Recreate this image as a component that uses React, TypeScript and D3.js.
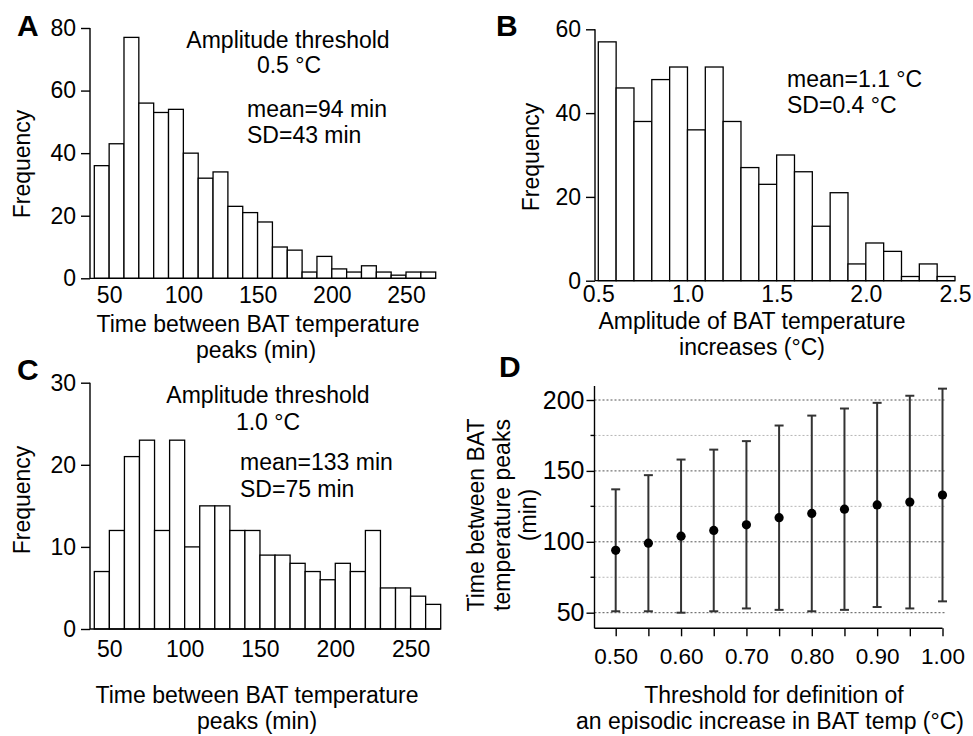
import React, { useEffect, useRef } from "react";
import * as d3 from "d3";

const FONT = "'Liberation Sans', Arial, sans-serif";

// histogram bins (lower edges) for the inter-peak time panels (A and C)
const timeBins = [40, 50, 60, 70, 80, 90, 100, 110, 120, 130, 140, 150, 160, 170, 180, 190, 200, 210, 220, 230, 240, 250, 260];
const timeBinWidth = 10;
const countsA = [36, 43, 77, 56, 53, 54, 40, 32, 34, 23, 21, 18, 10, 9, 2, 7, 3, 2, 4, 2, 1, 2, 2];
const countsC = [7, 12, 21, 23, 12, 23, 10, 15, 15, 12, 12, 9, 9, 8, 7, 6, 8, 7, 12, 5, 5, 4, 3];

// amplitude histogram (B)
const ampBins = [0.5, 0.6, 0.7, 0.8, 0.9, 1.0, 1.1, 1.2, 1.3, 1.4, 1.5, 1.6, 1.7, 1.8, 1.9, 2.0, 2.1, 2.2, 2.3, 2.4];
const ampBinWidth = 0.1;
const countsB = [57, 46, 38, 48, 51, 36, 51, 38, 27, 23, 30, 26, 13, 21, 4, 9, 7, 1, 4, 1];

// panel D: mean +/- SD of time between peaks per threshold
const thresholds = [0.5, 0.55, 0.6, 0.65, 0.7, 0.75, 0.8, 0.85, 0.9, 0.95, 1.0];
const meanInterval = [94, 99, 104, 108, 112, 117, 120, 123, 126, 128, 133];
const sdInterval = [43, 48, 54, 57, 59, 65, 69, 71, 72, 75, 75];

const yTicksA = [0, 20, 40, 60, 80];
const yTicksB = [0, 20, 40, 60];
const yTicksC = [0, 10, 20, 30];
const timeTicks = [50, 100, 150, 200, 250];
const ampTicks = [0.5, 1.0, 1.5, 2.0, 2.5];
const yTicksD = [50, 100, 150, 200];
const gridMajorD = [50, 100, 150, 200];
const gridMinorD = [75, 125, 175];
const xLabelsD = [0.5, 0.6, 0.7, 0.8, 0.9, 1.0];

function styleAxis(g, size) {
  g.attr("font-size", null).attr("font-family", null);
  g.selectAll("text").attr("font-size", size).attr("font-family", FONT).attr("fill", "#000");
  g.selectAll("line").attr("stroke", "#000").attr("stroke-width", 1.4);
  g.selectAll("path").attr("stroke", "#000").attr("stroke-width", 1.4);
}

function drawHist(svg, o) {
  const x = d3.scaleLinear().domain(o.xDomain).range(o.xRange);
  const y = d3.scaleLinear().domain(o.yDomain).range(o.yRange);

  svg
    .append("g")
    .selectAll("rect")
    .data(o.counts)
    .join("rect")
    .attr("x", (d, i) => x(o.bins[i]))
    .attr("width", (d, i) => x(o.bins[i] + o.binWidth) - x(o.bins[i]))
    .attr("y", (d) => y(d))
    .attr("height", (d) => y(0) - y(d))
    .attr("fill", "#fff")
    .attr("stroke", "#000")
    .attr("stroke-width", 1.3);

  // baseline from the axis to the last bar
  svg
    .append("line")
    .attr("x1", o.axisX)
    .attr("x2", x(o.xDomain[1]))
    .attr("y1", y(0))
    .attr("y2", y(0))
    .attr("stroke", "#000")
    .attr("stroke-width", 1.3);

  const yAxis = d3.axisLeft(y).tickValues(o.yTicks).tickSize(9).tickSizeOuter(0).tickPadding(5);
  const gy = svg.append("g").attr("transform", `translate(${o.axisX},0)`).call(yAxis);
  styleAxis(gy, 23);
  gy.select(".domain").attr("d", `M0,${y(0)}V${y(o.yDomain[1])}`);

  const xAxis = d3.axisBottom(x).tickValues(o.xTicks).tickSize(0).tickPadding(o.xPad).tickFormat(o.xFormat);
  const gx = svg.append("g").attr("transform", `translate(0,${y(0)})`).call(xAxis);
  styleAxis(gx, 23);
  gx.select(".domain").remove();
}

function addText(svg, str, x, y, anchor = "start", size = 23, weight = "normal") {
  return svg
    .append("text")
    .attr("x", x)
    .attr("y", y)
    .attr("text-anchor", anchor)
    .attr("font-family", FONT)
    .attr("font-size", size)
    .attr("font-weight", weight)
    .attr("fill", "#000")
    .text(str);
}

function addVText(svg, str, x, y) {
  svg
    .append("text")
    .attr("transform", `translate(${x},${y}) rotate(-90)`)
    .attr("text-anchor", "middle")
    .attr("font-family", FONT)
    .attr("font-size", 23)
    .attr("fill", "#000")
    .text(str);
}

export default function App() {
  const svgRef = useRef(null);

  useEffect(() => {
    const svg = d3.select(svgRef.current);
    svg.selectAll("*").remove();

    // ---- A ----
    drawHist(svg, {
      bins: timeBins, binWidth: timeBinWidth, counts: countsA,
      xDomain: [40, 270], xRange: [94.3, 435.7],
      yDomain: [0, 80], yRange: [278.3, 28],
      yTicks: yTicksA, xTicks: timeTicks, xFormat: d3.format("d"),
      axisX: 90, xPad: 8,
    });
    addText(svg, "A", 17, 36, "start", 30, "bold");
    addText(svg, "Amplitude threshold", 288, 48, "middle");
    addText(svg, "0.5 °C", 289, 73, "middle");
    addText(svg, "mean=94 min", 247, 117);
    addText(svg, "SD=43 min", 247, 143);
    addVText(svg, "Frequency", 30, 164);
    addText(svg, "Time between BAT temperature", 258, 332, "middle");
    addText(svg, "peaks (min)", 256, 358, "middle");

    // ---- B ----
    drawHist(svg, {
      bins: ampBins, binWidth: ampBinWidth, counts: countsB,
      xDomain: [0.5, 2.5], xRange: [598.3, 955],
      yDomain: [0, 60], yRange: [280.7, 29.3],
      yTicks: yTicksB, xTicks: ampTicks, xFormat: d3.format(".1f"),
      axisX: 595, xPad: 5,
    });
    addText(svg, "B", 496, 36, "start", 30, "bold");
    addText(svg, "mean=1.1 °C", 787, 87);
    addText(svg, "SD=0.4 °C", 787, 113);
    addVText(svg, "Frequency", 539, 157);
    addText(svg, "Amplitude of BAT temperature", 752, 329, "middle");
    addText(svg, "increases (°C)", 752, 355, "middle");

    // ---- C ----
    drawHist(svg, {
      bins: timeBins, binWidth: timeBinWidth, counts: countsC,
      xDomain: [40, 270], xRange: [94.3, 440.7],
      yDomain: [0, 30], yRange: [629, 382.7],
      yTicks: yTicksC, xTicks: timeTicks, xFormat: d3.format("d"),
      axisX: 90, xPad: 12,
    });
    addText(svg, "C", 17, 380, "start", 30, "bold");
    addText(svg, "Amplitude threshold", 268, 403, "middle");
    addText(svg, "1.0 °C", 268, 430, "middle");
    addText(svg, "mean=133 min", 240, 470);
    addText(svg, "SD=75 min", 240, 497);
    addVText(svg, "Frequency", 30, 500);
    addText(svg, "Time between BAT temperature", 257, 703, "middle");
    addText(svg, "peaks (min)", 257, 729, "middle");

    // ---- D ----
    const axisXD = 594.5;
    const xD = d3.scaleLinear().domain([0.5, 1.0]).range([615.7, 942.5]);
    const yD = d3.scaleLinear().domain([50, 200]).range([612.7, 400]);
    const yBottom = 628.3;
    const yTop = 386;
    const gridRight = 946;

    const grid = svg.append("g");
    grid
      .selectAll("line.minor")
      .data(gridMinorD)
      .join("line")
      .attr("x1", axisXD)
      .attr("x2", gridRight)
      .attr("y1", (d) => yD(d))
      .attr("y2", (d) => yD(d))
      .attr("stroke", "#b5b5b5")
      .attr("stroke-width", 1)
      .attr("stroke-dasharray", "2,2");
    grid
      .selectAll("line.major")
      .data(gridMajorD)
      .join("line")
      .attr("x1", axisXD)
      .attr("x2", gridRight)
      .attr("y1", (d) => yD(d))
      .attr("y2", (d) => yD(d))
      .attr("stroke", "#555")
      .attr("stroke-width", 1)
      .attr("stroke-dasharray", "2,2");

    // minor y ticks
    svg
      .append("g")
      .selectAll("line")
      .data(gridMinorD)
      .join("line")
      .attr("x1", axisXD - 4)
      .attr("x2", axisXD)
      .attr("y1", (d) => yD(d))
      .attr("y2", (d) => yD(d))
      .attr("stroke", "#000")
      .attr("stroke-width", 1.4);

    const gyD = svg
      .append("g")
      .attr("transform", `translate(${axisXD},0)`)
      .call(d3.axisLeft(yD).tickValues(yTicksD).tickSize(8).tickSizeOuter(0).tickPadding(2));
    styleAxis(gyD, 25);
    gyD.select(".domain").attr("d", `M0,${yTop}V${yBottom}`);

    const gxD = svg
      .append("g")
      .attr("transform", `translate(0,${yBottom})`)
      .call(d3.axisBottom(xD).tickValues(thresholds).tickSize(8).tickSizeOuter(0).tickPadding(12).tickFormat((d) => (xLabelsD.some((v) => Math.abs(v - d) < 1e-9) ? d3.format(".2f")(d) : "")));
    styleAxis(gxD, 22.5);
    gxD.select(".domain").attr("d", `M${axisXD},0H${xD(1.0)}`);

    const rows = thresholds.map((t, i) => ({ t, m: meanInterval[i], sd: sdInterval[i] }));
    const eb = svg.append("g").attr("stroke", "#333").attr("stroke-width", 2);
    eb.selectAll("line.v")
      .data(rows)
      .join("line")
      .attr("x1", (d) => xD(d.t))
      .attr("x2", (d) => xD(d.t))
      .attr("y1", (d) => yD(d.m - d.sd))
      .attr("y2", (d) => yD(d.m + d.sd));
    eb.selectAll("line.top")
      .data(rows)
      .join("line")
      .attr("x1", (d) => xD(d.t) - 4.5)
      .attr("x2", (d) => xD(d.t) + 4.5)
      .attr("y1", (d) => yD(d.m + d.sd))
      .attr("y2", (d) => yD(d.m + d.sd));
    svg
      .append("g")
      .attr("stroke", "#333")
      .attr("stroke-width", 2)
      .selectAll("line")
      .data(rows)
      .join("line")
      .attr("x1", (d) => xD(d.t) - 4.5)
      .attr("x2", (d) => xD(d.t) + 4.5)
      .attr("y1", (d) => yD(d.m - d.sd))
      .attr("y2", (d) => yD(d.m - d.sd));

    svg
      .append("g")
      .selectAll("circle")
      .data(rows)
      .join("circle")
      .attr("cx", (d) => xD(d.t))
      .attr("cy", (d) => yD(d.m))
      .attr("r", 4.6)
      .attr("fill", "#000");

    addText(svg, "D", 499, 377, "start", 30, "bold");
    addVText(svg, "Time between BAT", 484, 515);
    addVText(svg, "temperature peaks", 510, 515);
    addVText(svg, "(min)", 536, 515);
    addText(svg, "Threshold for definition of", 774, 703, "middle");
    addText(svg, "an episodic increase in BAT temp (°C)", 770, 729, "middle");
  }, []);

  return (
    <div style={{ position: "absolute", left: 0, top: 0, width: 973, height: 736, background: "#fff" }}>
      <svg ref={svgRef} width={973} height={736} style={{ display: "block" }} />
    </div>
  );
}
